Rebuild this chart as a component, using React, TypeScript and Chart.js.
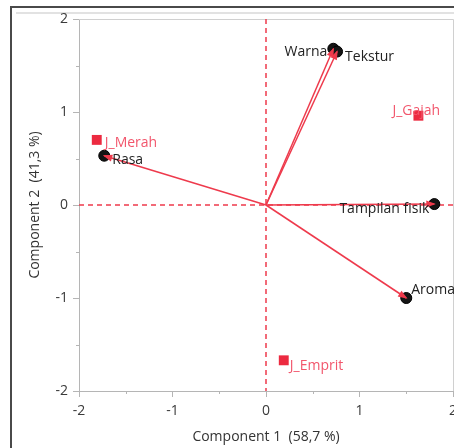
import React, { useEffect, useRef } from 'react';
import { Chart, registerables } from 'chart.js';

Chart.register(...registerables);

// ---- data ----
const loadingNames = ['Warna', 'Tekstur', 'Rasa', 'Tampilan fisik', 'Aroma'];
const loadingX = [0.72, 0.76, -1.73, 1.8, 1.5];
const loadingY = [1.68, 1.65, 0.53, 0.01, -1.0];
const scoreNames = ['J_Merah', 'J_Gajah', 'J_Emprit'];
const scoreX = [-1.81, 1.63, 0.19];
const scoreY = [0.7, 0.96, -1.67];
const majorTicks = [-2, -1, 0, 1, 2];
const minorTicks = [-1.5, -0.5, 0.5, 1.5];
const xTitle = 'Component 1  (58,7 %)';
const yTitle = 'Component 2  (41,3 %)';

// ---- styles ----
const RED = '#ee3a4c';
const SQUARE = '#ec2a40';
const SCORE_TEXT = '#f2566c';
const LOAD_TEXT = '#222222';
const AXIS_GREY = '#b5b5b5';
const FONT = '"Open Sans", "Noto Sans", sans-serif';

const loadingLabelStyle = [
  { dx: -6, dy: 3, align: 'right' },
  { dx: 8, dy: 5, align: 'left' },
  { dx: 8, dy: 4, align: 'left' },
  { dx: -5, dy: 5, align: 'right' },
  { dx: 5, dy: -8, align: 'left' },
];
const scoreLabelStyle = [
  { dx: 8, dy: 3, align: 'left' },
  { dx: -26, dy: -5, align: 'left' },
  { dx: 6, dy: 6, align: 'left' },
];

const decorPlugin = {
  id: 'decor',
  beforeDraw(chart: any) {
    const { ctx, width, height } = chart;
    ctx.save();
    ctx.fillStyle = '#ffffff';
    ctx.fillRect(0, 0, width, height);
    ctx.strokeStyle = '#e2e2e2';
    ctx.lineWidth = 2;
    ctx.beginPath();
    ctx.moveTo(16, 13);
    ctx.lineTo(width, 13);
    ctx.stroke();
    ctx.strokeStyle = '#4a4a4a';
    ctx.lineWidth = 2;
    ctx.beginPath();
    ctx.moveTo(11, height);
    ctx.lineTo(11, 7);
    ctx.lineTo(width, 7);
    ctx.stroke();
    ctx.restore();
  },
  beforeDatasetsDraw(chart: any) {
    const { ctx, chartArea } = chart;
    const xs = chart.scales.x;
    const ys = chart.scales.y;
    ctx.save();
    ctx.strokeStyle = '#d0d0d0';
    ctx.lineWidth = 1;
    ctx.beginPath();
    ctx.moveTo(chartArea.left, chartArea.top + 0.5);
    ctx.lineTo(chartArea.right + 0.5, chartArea.top + 0.5);
    ctx.lineTo(chartArea.right + 0.5, chartArea.bottom);
    ctx.stroke();
    ctx.strokeStyle = AXIS_GREY;
    ctx.beginPath();
    minorTicks.forEach((v) => {
      const px = Math.round(xs.getPixelForValue(v)) + 0.5;
      ctx.moveTo(px, chartArea.bottom);
      ctx.lineTo(px, chartArea.bottom + 3);
      const py = Math.round(ys.getPixelForValue(v)) + 0.5;
      ctx.moveTo(chartArea.left, py);
      ctx.lineTo(chartArea.left - 3, py);
    });
    ctx.stroke();
    ctx.strokeStyle = RED;
    ctx.lineWidth = 1.5;
    ctx.setLineDash([5, 4]);
    const x0 = xs.getPixelForValue(0);
    const y0 = ys.getPixelForValue(0);
    ctx.beginPath();
    ctx.moveTo(x0, chartArea.top);
    ctx.lineTo(x0, chartArea.bottom);
    ctx.moveTo(chartArea.left, y0);
    ctx.lineTo(chartArea.right, y0);
    ctx.stroke();
    ctx.restore();
  },
  afterDatasetsDraw(chart: any) {
    const { ctx } = chart;
    const xs = chart.scales.x;
    const ys = chart.scales.y;
    const ox = xs.getPixelForValue(0);
    const oy = ys.getPixelForValue(0);
    ctx.save();
    ctx.fillStyle = RED;
    loadingX.forEach((lx, i) => {
      const px = xs.getPixelForValue(lx);
      const py = ys.getPixelForValue(loadingY[i]);
      const a = Math.atan2(py - oy, px - ox);
      const len = 8;
      const hw = 3.5;
      const bx = px - len * Math.cos(a);
      const by = py - len * Math.sin(a);
      ctx.beginPath();
      ctx.moveTo(px + 1.5 * Math.cos(a), py + 1.5 * Math.sin(a));
      ctx.lineTo(bx - hw * Math.sin(a), by + hw * Math.cos(a));
      ctx.lineTo(bx + hw * Math.sin(a), by - hw * Math.cos(a));
      ctx.closePath();
      ctx.fill();
    });
    ctx.font = `14px ${FONT}`;
    ctx.textBaseline = 'middle';
    loadingNames.forEach((name, i) => {
      const s = loadingLabelStyle[i];
      const px = xs.getPixelForValue(loadingX[i]);
      const py = ys.getPixelForValue(loadingY[i]);
      ctx.fillStyle = LOAD_TEXT;
      ctx.textAlign = s.align;
      ctx.fillText(name, px + s.dx, py + s.dy);
    });
    scoreNames.forEach((name, i) => {
      const s = scoreLabelStyle[i];
      const px = xs.getPixelForValue(scoreX[i]);
      const py = ys.getPixelForValue(scoreY[i]);
      ctx.fillStyle = SCORE_TEXT;
      ctx.textAlign = s.align;
      ctx.fillText(name, px + s.dx, py + s.dy);
    });
    ctx.restore();
  },
};

export default function App() {
  const ref = useRef<HTMLCanvasElement | null>(null);

  useEffect(() => {
    document.body.style.margin = '0';
    const canvas = ref.current;
    if (!canvas) return;

    const lineSets = loadingNames.map((name, i) => ({
      label: name,
      data: [
        { x: 0, y: 0 },
        { x: loadingX[i], y: loadingY[i] },
      ],
      showLine: true,
      borderColor: RED,
      borderWidth: 1.5,
      pointRadius: 0,
      fill: false,
    }));

    const chart = new Chart(canvas, {
      type: 'scatter',
      data: {
        datasets: [
          ...lineSets,
          {
            label: 'loadings',
            data: loadingX.map((x, i) => ({ x, y: loadingY[i] })),
            pointRadius: 5.5,
            pointBackgroundColor: '#151515',
            pointBorderColor: '#000000',
            pointBorderWidth: 1,
          },
          {
            label: 'scores',
            data: scoreX.map((x, i) => ({ x, y: scoreY[i] })),
            pointStyle: 'rect',
            pointRadius: 7,
            pointBackgroundColor: SQUARE,
            pointBorderColor: SQUARE,
            pointBorderWidth: 0,
          },
        ] as any,
      },
      options: {
        responsive: false,
        animation: false,
        events: [],
        layout: { autoPadding: false, padding: { left: 0, top: 19, right: 1, bottom: 0 } },
        plugins: {
          legend: { display: false },
          tooltip: { enabled: false },
          title: { display: false },
        },
        scales: {
          x: {
            type: 'linear',
            min: -2,
            max: 2,
            afterBuildTicks: (s: any) => {
              s.ticks = majorTicks.map((v) => ({ value: v }));
            },
            afterFit: (s: any) => {
              s.height = 57;
              s.paddingLeft = 0;
              s.paddingRight = 0;
            },
            ticks: {
              color: '#3a3a3a',
              font: { size: 14, family: FONT },
              padding: 6,
              maxRotation: 0,
              autoSkip: false,
              callback: (v: any) => String(v),
            },
            grid: {
              drawOnChartArea: false,
              drawTicks: true,
              tickLength: 6,
              color: AXIS_GREY,
            },
            border: { display: true, color: AXIS_GREY, width: 1 },
            title: {
              display: true,
              text: xTitle,
              color: '#333333',
              font: { size: 14, family: FONT },
              padding: { top: 0, bottom: 2.6 },
            },
          },
          y: {
            type: 'linear',
            min: -2,
            max: 2,
            afterBuildTicks: (s: any) => {
              s.ticks = majorTicks.map((v) => ({ value: v }));
            },
            afterFit: (s: any) => {
              s.width = 79;
              s.paddingTop = 0;
              s.paddingBottom = 0;
            },
            ticks: {
              color: '#3a3a3a',
              font: { size: 14, family: FONT },
              padding: 5,
              autoSkip: false,
              callback: (v: any) => String(v),
            },
            grid: {
              drawOnChartArea: false,
              drawTicks: true,
              tickLength: 6,
              color: AXIS_GREY,
            },
            border: { display: true, color: AXIS_GREY, width: 1 },
            title: {
              display: true,
              text: yTitle,
              color: '#333333',
              font: { size: 14, family: FONT },
              padding: { top: 26.6, bottom: 0 },
            },
          },
        },
      } as any,
      plugins: [decorPlugin],
    });

    return () => chart.destroy();
  }, []);

  return (
    <canvas
      ref={ref}
      width={454}
      height={448}
      style={{ display: 'block', width: 454, height: 448 }}
    />
  );
}
